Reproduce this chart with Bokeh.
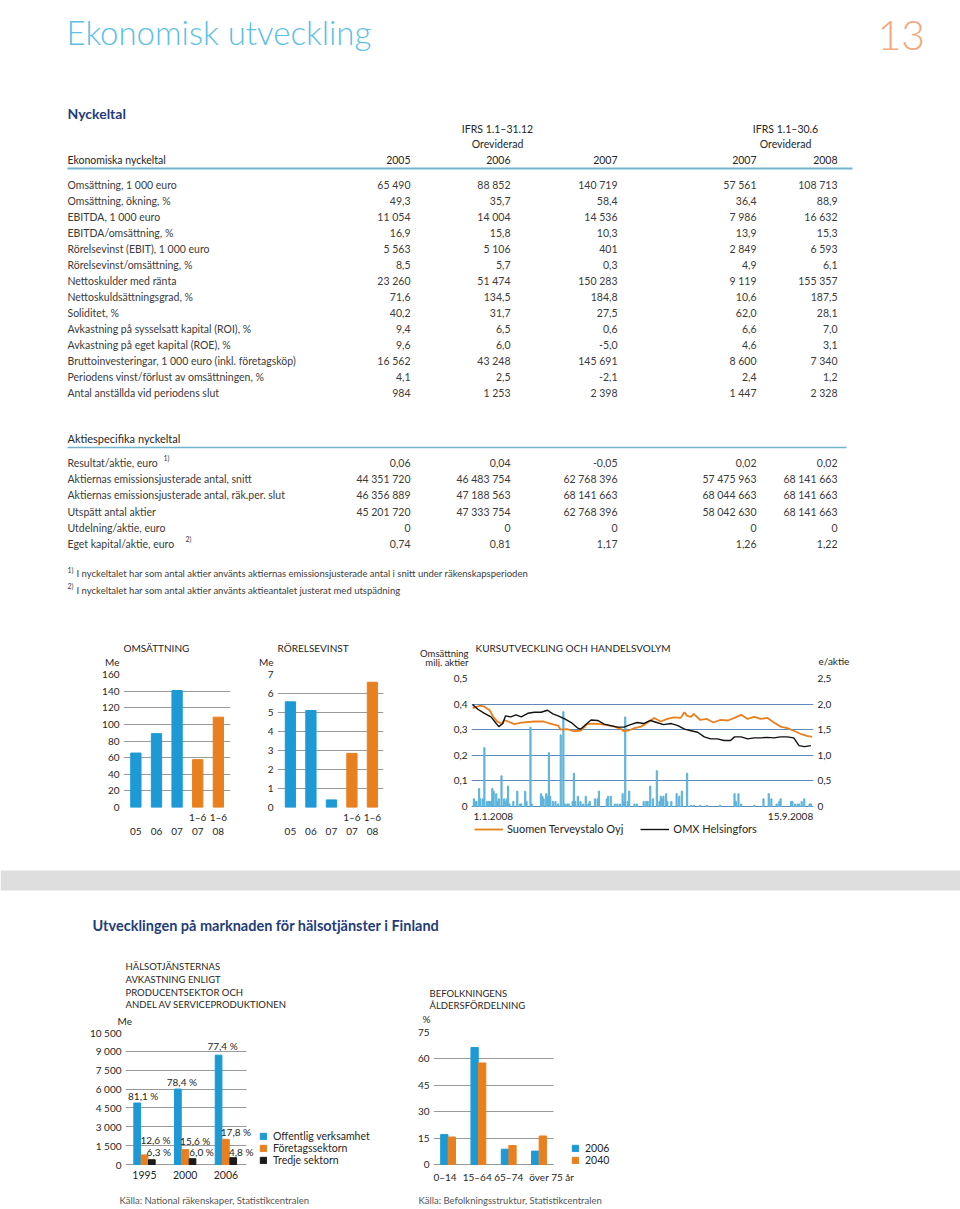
from bokeh.plotting import figure
from bokeh.models import (Range1d, LinearAxis, FixedTicker, Label, Legend, LegendItem,
                          CustomJSTickFormatter, ColumnDataSource, Grid)
from bokeh.layouts import column, row
from bokeh.embed import file_html
from bokeh.resources import INLINE
from bokeh.core.properties import value

# ------------------------------------------------------------------ DATA
ekon_labels = ["Omsättning, 1 000 euro", "Omsättning, ökning, %", "EBITDA, 1 000 euro",
               "EBITDA/omsättning, %", "Rörelsevinst (EBIT), 1 000 euro", "Rörelsevinst/omsättning, %",
               "Nettoskulder med ränta", "Nettoskuldsättningsgrad, %", "Soliditet, %",
               "Avkastning på sysselsatt kapital (ROI), %", "Avkastning på eget kapital (ROE), %",
               "Bruttoinvesteringar, 1 000 euro (inkl. företagsköp)",
               "Periodens vinst/förlust av omsättningen, %", "Antal anställda vid periodens slut"]
ekon_2005 = ["65 490", "49,3", "11 054", "16,9", "5 563", "8,5", "23 260", "71,6", "40,2", "9,4", "9,6", "16 562", "4,1", "984"]
ekon_2006 = ["88 852", "35,7", "14 004", "15,8", "5 106", "5,7", "51 474", "134,5", "31,7", "6,5", "6,0", "43 248", "2,5", "1 253"]
ekon_2007 = ["140 719", "58,4", "14 536", "10,3", "401", "0,3", "150 283", "184,8", "27,5", "0,6", "-5,0", "145 691", "-2,1", "2 398"]
ekon_h2007 = ["57 561", "36,4", "7 986", "13,9", "2 849", "4,9", "9 119", "10,6", "62,0", "6,6", "4,6", "8 600", "2,4", "1 447"]
ekon_h2008 = ["108 713", "88,9", "16 632", "15,3", "6 593", "6,1", "155 357", "187,5", "28,1", "7,0", "3,1", "7 340", "1,2", "2 328"]
table_years = ["2005", "2006", "2007", "2007", "2008"]

aktie_labels = ["Resultat/aktie, euro", "Aktiernas emissionsjusterade antal, snitt",
                "Aktiernas emissionsjusterade antal, räk.per. slut", "Utspätt antal aktier",
                "Utdelning/aktie, euro", "Eget kapital/aktie, euro"]
aktie_sup = ["1)", "", "", "", "", "2)"]
aktie_2005 = ["0,06", "44 351 720", "46 356 889", "45 201 720", "0", "0,74"]
aktie_2006 = ["0,04", "46 483 754", "47 188 563", "47 333 754", "0", "0,81"]
aktie_2007 = ["-0,05", "62 768 396", "68 141 663", "62 768 396", "0", "1,17"]
aktie_h2007 = ["0,02", "57 475 963", "68 044 663", "58 042 630", "0", "1,26"]
aktie_h2008 = ["0,02", "68 141 663", "68 141 663", "68 141 663", "0", "1,22"]
footnotes = ["I nyckeltalet har som antal aktier använts aktiernas emissionsjusterade antal i snitt under räkenskapsperioden",
             "I nyckeltalet har som antal aktier använts aktieantalet justerat med utspädning"]

bar_periods = ["05", "06", "07", "1–6 07", "1–6 08"]
omsattning_me = [65.49, 88.852, 140.719, 57.561, 108.713]
rorelsevinst_me = [5.563, 5.106, 0.401, 2.849, 6.593]

# share price chart: days since 1.1.2008
vol_day = [1, 2, 3, 5, 6, 8, 9, 11, 12, 13, 14, 15, 16, 18, 19, 20, 22, 24, 25, 26, 27, 28, 31, 34, 36, 37, 40, 41, 44, 45,
           52, 53, 54, 56, 57, 58, 59, 61, 63, 65, 67, 69, 70, 72, 73, 76, 77, 78, 80, 82, 84, 86, 88, 89, 93, 95, 96, 102, 103, 105,
           108, 110, 112, 114, 115, 116, 118, 119, 123, 125, 130, 132, 133, 135, 137, 140, 142, 143, 144, 145, 147, 148, 151, 155, 157, 159,
           163, 166, 168, 173, 178, 188, 199, 200, 202, 204, 214, 221, 225, 227, 231, 233, 234, 242, 243, 245, 247, 248, 250, 252, 256, 257]
vol_milj = [0.03, 0.02, 0.02, 0.07, 0.03, 0.03, 0.23, 0.02, 0.02, 0.02, 0.02, 0.07, 0.06, 0.05, 0.02, 0.03, 0.12, 0.03, 0.02, 0.03,
            0.08, 0.01, 0.02, 0.06, 0.01, 0.01, 0.06, 0.02, 0.31, 0.01, 0.05, 0.04, 0.03, 0.05, 0.04, 0.21, 0.04, 0.02, 0.02, 0.01,
            0.28, 0.37, 0.01, 0.01, 0.01, 0.02, 0.13, 0.02, 0.04, 0.02, 0.01, 0.04, 0.01, 0.02, 0.03, 0.03, 0.06, 0.03, 0.04, 0.04,
            0.01, 0.01, 0.01, 0.05, 0.02, 0.35, 0.02, 0.06, 0.01, 0.01, 0.02, 0.02, 0.02, 0.08, 0.03, 0.14, 0.02, 0.04, 0.03, 0.04,
            0.05, 0.02, 0.02, 0.05, 0.04, 0.06, 0.13, 0.005, 0.005, 0.005, 0.005, 0.005, 0.05, 0.02, 0.05, 0.01, 0.005, 0.03, 0.05, 0.03,
            0.01, 0.02, 0.03, 0.02, 0.02, 0.01, 0.01, 0.01, 0.02, 0.03, 0.01, 0.01]
ter_day = [0, 6, 9, 13, 16, 19, 22, 24, 27, 32, 37, 47, 54, 59, 65, 67, 72, 77, 82, 85, 87, 92, 97, 102, 108, 113, 115, 118, 123, 128,
           133, 138, 143, 148, 153, 158, 161, 163, 166, 168, 173, 178, 183, 188, 194, 199, 204, 209, 214, 219, 224, 229, 234, 239, 244, 249, 254, 258]
ter_eur = [1.92, 1.97, 1.95, 1.88, 1.74, 1.66, 1.61, 1.69, 1.66, 1.61, 1.64, 1.66, 1.66, 1.62, 1.58, 1.50, 1.51, 1.47, 1.48, 1.55,
           1.61, 1.62, 1.61, 1.59, 1.56, 1.51, 1.47, 1.48, 1.53, 1.56, 1.64, 1.73, 1.66, 1.71, 1.74, 1.73, 1.84, 1.77, 1.75, 1.81,
           1.69, 1.71, 1.64, 1.69, 1.68, 1.73, 1.79, 1.71, 1.75, 1.71, 1.73, 1.64, 1.56, 1.53, 1.48, 1.42, 1.38, 1.36]
omx_day = [0, 4, 9, 14, 18, 20, 23, 25, 29, 33, 37, 42, 47, 52, 57, 61, 65, 70, 75, 80, 82, 86, 90, 95, 100, 105, 110, 115, 120, 125,
           130, 135, 140, 145, 151, 156, 161, 166, 171, 176, 181, 186, 191, 196, 199, 204, 209, 214, 219, 224, 229, 234, 239, 244, 248, 252, 257]
omx_eur = [1.99, 1.90, 1.82, 1.75, 1.62, 1.56, 1.62, 1.77, 1.75, 1.79, 1.75, 1.82, 1.84, 1.84, 1.88, 1.81, 1.77, 1.71, 1.64, 1.53,
           1.51, 1.60, 1.69, 1.68, 1.61, 1.58, 1.55, 1.55, 1.60, 1.64, 1.62, 1.68, 1.64, 1.60, 1.62, 1.58, 1.51, 1.48, 1.45, 1.36,
           1.32, 1.32, 1.29, 1.29, 1.36, 1.36, 1.32, 1.34, 1.34, 1.35, 1.34, 1.36, 1.36, 1.34, 1.19, 1.17, 1.19]
kurs_start, kurs_end = "1.1.2008", "15.9.2008"
kurs_last_day = 258
kurs_series = ["Suomen Terveystalo Oyj", "OMX Helsingfors"]

halso_years = ["1995", "2000", "2006"]
halso_sectors = ["Offentlig verksamhet", "Företagssektorn", "Tredje sektorn"]
offentlig_me = [4890, 6000, 8700]
foretag_me = [760, 1190, 2000]
tredje_me = [380, 460, 540]
offentlig_pct = ["81,1 %", "78,4 %", "77,4 %"]
foretag_pct = ["12,6 %", "15,6 %", "17,8 %"]
tredje_pct = ["6,3 %", "6,0 %", "4,8 %"]

alder_groups = ["0–14", "15–64", "65–74", "över 75 år"]
alder_years = ["2006", "2040"]
alder_2006 = [17.0, 66.5, 8.7, 7.6]
alder_2040 = [15.6, 57.7, 10.8, 16.2]

# ------------------------------------------------------------------ STYLE
FONT = "Lato"
LIGHT_FONT = "'Lato Light', Lato"
TXT = "#3b3b3b"
DARK = "#262626"
BLUE = "#1d9ad6"
ORANGE = "#e9801f"
BLACK = "#1a1a1a"
GRID = "#9a9a9a"
KGRID = "#5f89b8"
TEAL = "#72b4cb"
NAVY = "#1f3d7a"

comma1 = CustomJSTickFormatter(code="return tick == 0 ? '0' : tick.toFixed(1).replace('.', ',');")
thou = CustomJSTickFormatter(code=r"return String(Math.round(tick)).replace(/\B(?=(\d{3})+(?!\d))/g, ' ');")
HAS_CROSS = "cross_bounds" in Grid.properties()


def page_fig(x0, y0, w, h):
    """A figure whose data coordinates are page pixels (y downwards)."""
    p = figure(width=w, height=h, x_range=Range1d(x0, x0 + w), y_range=Range1d(y0 + h, y0),
               x_axis_type=None, y_axis_type=None, output_backend="svg", toolbar_location=None,
               min_border=0)
    p.outline_line_color = None
    return p


def ptext(p, xs, ys, texts, size=10.5, color=TXT, align="left", style="normal", baseline="middle", font=FONT):
    src = ColumnDataSource(dict(x=list(xs), y=list(ys), t=list(texts)))
    p.text(x="x", y="y", text="t", source=src, text_font=value(font), text_font_size=value(f"{size}px"),
           text_color=color, text_align=align, text_baseline=baseline, text_font_style=style)


def chart(pl, pt, w, h, fl, fr, ft, fb, xr, yr):
    p = figure(width=w, height=h, x_range=Range1d(*xr), y_range=Range1d(*yr),
               output_backend="svg", toolbar_location=None,
               min_border_left=fl - pl, min_border_right=pl + w - fr,
               min_border_top=ft - pt, min_border_bottom=pt + h - fb)
    p.outline_line_color = None
    p.xgrid.visible = False
    p.ygrid.grid_line_color = GRID
    for ax in p.axis:
        ax.axis_line_color = None
        ax.major_tick_line_color = None
        ax.minor_tick_line_color = None
        ax.major_tick_out = 0
        ax.major_tick_in = 0
        ax.major_label_text_font = FONT
        ax.major_label_text_font_size = "10px"
        ax.major_label_text_color = DARK
    p.yaxis.major_label_standoff = 4
    return p


def limit_grid(p, x_lo, x_hi, ticks):
    """Keep the horizontal grid lines within the bar area."""
    if HAS_CROSS:
        p.ygrid.cross_bounds = (x_lo, x_hi)
    else:
        p.ygrid.visible = False
        p.segment(x0=[x_lo] * len(ticks), x1=[x_hi] * len(ticks), y0=ticks, y1=ticks,
                  line_color=GRID, line_width=1, level="underlay")


def make_legend(items, loc, orientation="vertical", gw=8, gh=8, spacing=0, size="10.5px", standoff=6):
    return Legend(items=items, location=loc, orientation=orientation, glyph_width=gw, glyph_height=gh,
                  label_height=12, label_standoff=standoff, spacing=spacing, padding=0, margin=0,
                  border_line_color=None, background_fill_alpha=0,
                  label_text_font=FONT, label_text_font_size=size, label_text_color=DARK)


# ------------------------------------------------------------------ TOP: heading + tables + chart titles
top = page_fig(0, 0, 960, 667)
ptext(top, [66], [31], ["Ekonomisk utveckling"], size=33, color="#5bbfe6", baseline="alphabetic", font=LIGHT_FONT)
ptext(top, [877], [35], ["13"], size=41, color="#f2a77c", baseline="alphabetic", font=LIGHT_FONT)
ptext(top, [67], [113], ["Nyckeltal"], size=14, color=NAVY, style="bold")
ptext(top, [497, 497, 785, 785], [128, 143, 128, 143],
      ["IFRS 1.1–31.12", "Oreviderad", "IFRS 1.1–30.6", "Oreviderad"], color=DARK, align="center")
col_right = [410, 510, 617, 756, 837]
ptext(top, [67], [159], ["Ekonomiska nyckeltal"], color=DARK)
ptext(top, col_right, [159] * 5, table_years, color=DARK, align="right")
top.segment(x0=[67], y0=[168], x1=[852], y1=[168], line_color=TEAL, line_width=2)

row_y = [184 + i * 16.05 for i in range(len(ekon_labels))]
ptext(top, [67] * len(ekon_labels), row_y, ekon_labels)
for cx, col in zip(col_right, [ekon_2005, ekon_2006, ekon_2007, ekon_h2007, ekon_h2008]):
    ptext(top, [cx] * len(col), row_y, col, align="right")

ptext(top, [67], [438], ["Aktiespecifika nyckeltal"], size=11, color=DARK)
top.segment(x0=[67], y0=[447], x1=[846], y1=[447], line_color=TEAL, line_width=1.5)
arow_y = [462.7 + i * 16.1 for i in range(len(aktie_labels))]
ptext(top, [67] * len(aktie_labels), arow_y, aktie_labels)
sup_x = {0: 163, 5: 185}
for i, s in enumerate(aktie_sup):
    if s:
        ptext(top, [sup_x[i]], [arow_y[i] - 5], [s], size=7)
for cx, col in zip(col_right, [aktie_2005, aktie_2006, aktie_2007, aktie_h2007, aktie_h2008]):
    ptext(top, [cx] * len(col), arow_y, col, align="right")
for i, (fy_, t) in enumerate(zip([573, 589.5], footnotes)):
    ptext(top, [67], [fy_ - 4], [f"{i + 1})"], size=7)
    ptext(top, [76], [fy_], [t], size=9.5)

# titles of the three small charts
ptext(top, [123, 277, 475], [647, 647, 647], ["OMSÄTTNING", "RÖRELSEVINST", "KURSUTVECKLING OCH HANDELSVOLYM"],
      size=10, color=DARK)
ptext(top, [119, 273], [661, 661], ["Me", "Me"], size=10, color=DARK, align="right")
ptext(top, [468, 468], [652.5, 661.5], ["Omsättning", "milj. aktier"], size=9.5, color=DARK, align="right")
ptext(top, [818], [660.5], ["e/aktie"], size=10, color=DARK)

# ------------------------------------------------------------------ ROW: small charts
colors5 = [ORANGE if c.startswith("1–6") else BLUE for c in bar_periods]
xlabels5 = {i: ("1–6\n" + c.split()[-1]) if c.startswith("1–6") else (" \n" + c) for i, c in enumerate(bar_periods)}

p_oms = chart(0, 667, 253, 185, 123, 230, 674, 807, (-0.6, 4.59), (0, 160))
p_oms.vbar(x=list(range(5)), top=omsattning_me, width=0.5, color=colors5)
p_oms.yaxis.ticker = FixedTicker(ticks=list(range(0, 161, 20)))
p_oms.xaxis.ticker = FixedTicker(ticks=list(range(5)))
p_oms.xaxis.major_label_overrides = xlabels5
p_oms.xaxis.major_label_standoff = 3

p_ror = chart(253, 667, 147, 185, 277, 383, 674, 807, (-0.63, 4.54), (0, 7))
p_ror.vbar(x=list(range(5)), top=rorelsevinst_me, width=0.5, color=colors5)
p_ror.yaxis.ticker = FixedTicker(ticks=list(range(0, 8)))
p_ror.xaxis.ticker = FixedTicker(ticks=list(range(5)))
p_ror.xaxis.major_label_overrides = xlabels5
p_ror.xaxis.major_label_standoff = 3

# share price chart: the frame reaches below the zero line so that dates and key fit inside it
K_TOP, K_ZERO, K_BOT = 678, 806, 840
vol_lo = -0.5 * (K_BOT - K_ZERO) / (K_ZERO - K_TOP)
eur_lo = -2.5 * (K_BOT - K_ZERO) / (K_ZERO - K_TOP)
p_k = chart(400, 667, 560, 185, 471, 813, K_TOP, K_BOT, (-0.8, 259.0), (vol_lo, 0.5))
p_k.ygrid.grid_line_color = KGRID
p_k.xaxis.visible = False
p_k.extra_y_ranges = {"eur": Range1d(eur_lo, 2.5)}
p_k.yaxis.ticker = FixedTicker(ticks=[0, 0.1, 0.2, 0.3, 0.4, 0.5])
p_k.yaxis.formatter = comma1
rax = LinearAxis(y_range_name="eur", ticker=FixedTicker(ticks=[0, 0.5, 1.0, 1.5, 2.0, 2.5]), formatter=comma1,
                 axis_line_color=None, major_tick_line_color=None, minor_tick_line_color=None,
                 major_tick_out=0, major_tick_in=0, major_label_standoff=4,
                 major_label_text_font=FONT, major_label_text_font_size="10px", major_label_text_color=DARK)
p_k.add_layout(rax, "right")
p_k.vbar(x=vol_day, top=vol_milj, width=0.9, color="#5fb4da")
r_ter = p_k.line(x=ter_day, y=ter_eur, y_range_name="eur", line_color=ORANGE, line_width=1.8)
r_omx = p_k.line(x=omx_day, y=omx_eur, y_range_name="eur", line_color="#111111", line_width=1.4)
date_y = -0.5 * (815.5 - K_ZERO) / (K_ZERO - K_TOP)
p_k.add_layout(Label(x=0, y=date_y, text=kurs_start, text_font=FONT, text_font_size="10px", text_color=DARK,
                     text_align="left", text_baseline="middle", x_offset=1))
p_k.add_layout(Label(x=kurs_last_day, y=date_y, text=kurs_end, text_font=FONT, text_font_size="10px",
                     text_color=DARK, text_align="right", text_baseline="middle", x_offset=1))
leg_k = make_legend([LegendItem(label=kurs_series[0], renderers=[r_ter]),
                     LegendItem(label=kurs_series[1], renderers=[r_omx])],
                    (3, 5), orientation="horizontal", gw=29, gh=12, spacing=17, size="11px", standoff=4)
p_k.add_layout(leg_k)

charts_row = row(column(p_oms), column(p_ror), column(p_k))

# ------------------------------------------------------------------ MID band + heading + bottom chart titles
mid = page_fig(0, 852, 960, 174)
mid.quad(left=[0], right=[960], top=[870], bottom=[890], fill_color="#dedede", line_color=None)
ptext(mid, [92], [925], ["Utvecklingen på marknaden för hälsotjänster i Finland"], size=14.5, color=NAVY, style="bold")
ptext(mid, [125] * 4, [966 + k * 12.8 for k in range(4)],
      ["HÄLSOTJÄNSTERNAS", "AVKASTNING ENLIGT", "PRODUCENTSEKTOR OCH", "ANDEL AV SERVICEPRODUKTIONEN"],
      size=9.5, color=DARK)
ptext(mid, [117], [1020.5], ["Me"], size=10, color=DARK)
ptext(mid, [429, 429], [992.7, 1005], ["BEFOLKNINGENS", "ÅLDERSFÖRDELNING"], size=9.5, color=DARK)
ptext(mid, [422], [1018.5], ["%"], size=10, color=DARK)

# ------------------------------------------------------------------ BOTTOM charts
B_TOP, B_ZERO, B_BOT = 1032, 1164, 1170
h_lo = -10500 * (B_BOT - B_ZERO) / (B_ZERO - B_TOP)
p_h = chart(0, 1026, 400, 160, 125, 395, B_TOP, B_BOT, (-0.467, 6.167), (h_lo, 10500))
hx = list(range(3))
off = 0.18
r1 = p_h.vbar(x=[i - off for i in hx], top=offentlig_me, width=0.165, color=BLUE)
r2 = p_h.vbar(x=hx, top=foretag_me, width=0.165, color=ORANGE)
r3 = p_h.vbar(x=[i + off for i in hx], top=tredje_me, width=0.165, color=BLACK)
h_ticks = list(range(0, 10501, 1500))
p_h.yaxis.ticker = FixedTicker(ticks=h_ticks)
p_h.yaxis.formatter = thou
limit_grid(p_h, -0.467, 2.506, h_ticks)
p_h.xaxis.ticker = FixedTicker(ticks=hx)
p_h.xaxis.major_label_overrides = {i: y for i, y in enumerate(halso_years)}
p_h.xaxis.major_label_standoff = 0
p_h.xaxis.major_label_text_font_size = "10.5px"
blue_off = [(6, 7), (4, 7), (4, 9)]
ora_off = [(11, 15), (10, 9), (10, 7)]
blk_off = [(7, 8), (9, 7), (8, 6)]
for vals, pcts, dx_, offs in [(offentlig_me, offentlig_pct, -off, blue_off), (foretag_me, foretag_pct, 0, ora_off),
                              (tredje_me, tredje_pct, off, blk_off)]:
    for i in hx:
        p_h.add_layout(Label(x=i + dx_, y=vals[i], text=pcts[i], text_font=FONT, text_font_size="10px",
                             text_color=DARK, text_align="center", text_baseline="middle",
                             x_offset=offs[i][0], y_offset=offs[i][1]))
leg_h = make_legend([LegendItem(label=halso_sectors[0], renderers=[r1]),
                     LegendItem(label=halso_sectors[1], renderers=[r2]),
                     LegendItem(label=halso_sectors[2], renderers=[r3])], (134, 4))
p_h.add_layout(leg_h)

b_lo = -75 * (B_BOT - B_ZERO) / (B_ZERO - B_TOP)
p_b = chart(400, 1026, 560, 160, 433, 620, B_TOP, B_BOT, (-0.482, 5.69), (b_lo, 75))
bx = list(range(4))
boff = 0.125
b1 = p_b.vbar(x=[i - boff for i in bx], top=alder_2006, width=0.24, color=BLUE)
b2 = p_b.vbar(x=[i + boff for i in bx], top=alder_2040, width=0.24, color=ORANGE)
b_ticks = list(range(0, 76, 15))
p_b.yaxis.ticker = FixedTicker(ticks=b_ticks)
limit_grid(p_b, -0.482, 3.479, b_ticks)
label_pos = [-0.1, 0.96, 2.0, 3.42]
p_b.xaxis.ticker = FixedTicker(ticks=label_pos)
p_b.xaxis.major_label_overrides = {t: g for t, g in zip(label_pos, alder_groups)}
p_b.xaxis.major_label_standoff = 0
p_b.xaxis.major_label_text_font_size = "10px"
leg_b = make_legend([LegendItem(label=alder_years[0], renderers=[b1]),
                     LegendItem(label=alder_years[1], renderers=[b2])], (138, 4))
p_b.add_layout(leg_b)

bottom_row = row(column(p_h), column(p_b))

foot = page_fig(0, 1186, 960, 23)
ptext(foot, [119, 418], [1200, 1200], ["Källa: National räkenskaper, Statistikcentralen",
                                       "Källa: Befolkningsstruktur, Statistikcentralen"], size=9.5, color="#555555")

page = column(top, charts_row, mid, bottom_row, foot)
open("out.html", "w").write(file_html(page, INLINE))
